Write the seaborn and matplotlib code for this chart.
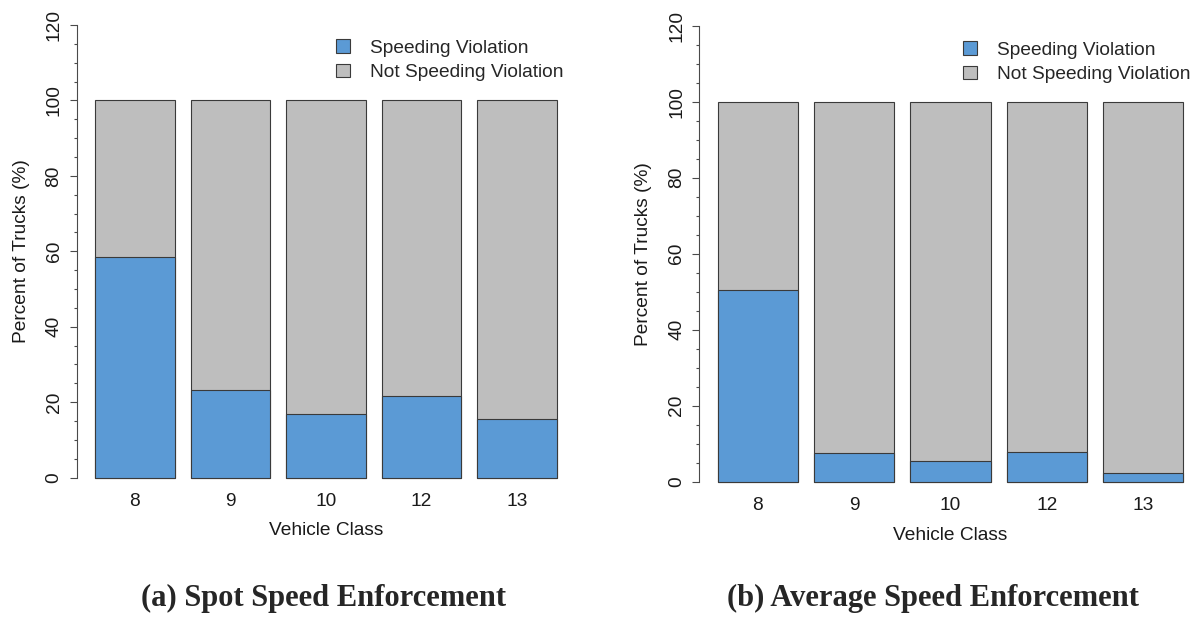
import matplotlib
matplotlib.use("Agg")
import matplotlib.pyplot as plt
from matplotlib.patches import Patch
from matplotlib.ticker import MultipleLocator
import seaborn as sns
import numpy as np

# ---- data ----
vehicle_classes = ["8", "9", "10", "12", "13"]
spot_speeding = [58.6, 23.2, 16.8, 21.7, 15.6]
spot_not_speeding = [41.4, 76.8, 83.2, 78.3, 84.4]
avg_speeding = [50.4, 7.6, 5.5, 7.9, 2.2]
avg_not_speeding = [49.6, 92.4, 94.5, 92.1, 97.8]
series_labels = ["Speeding Violation", "Not Speeding Violation"]
captions = ["(a) Spot Speed Enforcement", "(b) Average Speed Enforcement"]
y_label = "Percent of Trucks (%)"
x_label = "Vehicle Class"

BLUE = "#5B9AD5"
GREY = "#BEBEBE"
EDGE = "#3a3a3a"
AXC = "#4a4a4a"

sns.set_style("white")
plt.rcParams["font.family"] = ["Liberation Sans", "DejaVu Sans"]

W, H = 1199, 618
fig = plt.figure(figsize=(W / 100, H / 100), dpi=100)

FS = 13.8
BW = 1 / 1.2

def px_axes(l, t, r, b):
    return fig.add_axes([l / W, 1 - b / H, (r - l) / W, (b - t) / H])

panels = [
    dict(rect=(76.5, 7.0, 575.2, 495.6), spd=spot_speeding, nsp=spot_not_speeding,
         leg=(336, 39), cap=(324, 598), caption=captions[0], ylx=22),
    dict(rect=(699.1, 7.5, 1201.9, 500.0), spd=avg_speeding, nsp=avg_not_speeding,
         leg=(963, 41), cap=(933, 598), caption=captions[1], ylx=643),
]

for p in panels:
    ax = px_axes(*p["rect"])
    totals = list(np.add(p["spd"], p["nsp"]))
    sns.barplot(x=vehicle_classes, y=totals, order=vehicle_classes, color=GREY,
                saturation=1, width=BW, edgecolor=EDGE, linewidth=0.8, ax=ax)
    sns.barplot(x=vehicle_classes, y=p["spd"], order=vehicle_classes, color=BLUE,
                saturation=1, width=BW, edgecolor=EDGE, linewidth=0.8, ax=ax)
    ext = 0.232 / 1.2
    ax.set_xlim(-BW / 2 - ext, 4 + BW / 2 + ext)
    ax.set_ylim(-4.8, 124.8)
    for s in ["top", "right", "bottom"]:
        ax.spines[s].set_visible(False)
    ax.spines["left"].set_bounds(0, 120)
    ax.spines["left"].set_color(AXC)
    ax.spines["left"].set_linewidth(0.8)
    ax.yaxis.set_major_locator(MultipleLocator(20))
    ax.yaxis.set_minor_locator(MultipleLocator(5))
    ax.tick_params(axis="y", which="major", length=5.0, width=0.8, color=AXC,
                   labelsize=FS, pad=5.0, left=True, labelcolor="#1a1a1a")
    ax.tick_params(axis="y", which="minor", length=2.5, width=0.8, color=AXC, left=True)
    ax.tick_params(axis="x", length=0, labelsize=FS, pad=-1.8, labelcolor="#1a1a1a")
    ax.set_yticks(np.arange(0, 121, 20))
    for lab in ax.get_yticklabels():
        lab.set_rotation(90)
        lab.set_va("center")
    ax.set_xlabel(x_label, fontsize=FS, color="#1a1a1a")
    ax.set_ylabel(y_label, fontsize=FS, color="#1a1a1a")
    l, t, r, b = p["rect"]
    ax.xaxis.set_label_coords(0.5, -(35.0) / (b - t))
    ax.xaxis.label.set_va("center")
    ax.yaxis.set_label_coords((p["ylx"] - l) / (r - l), 0.5)
    ax.yaxis.label.set_va("center")
    ax.grid(False)

    handles = [Patch(facecolor=BLUE, edgecolor=EDGE, linewidth=0.8),
               Patch(facecolor=GREY, edgecolor=EDGE, linewidth=0.8)]
    ax.legend(handles, series_labels, loc="upper left",
              bbox_to_anchor=(p["leg"][0] / W, 1 - p["leg"][1] / H),
              bbox_transform=fig.transFigure, frameon=False, borderpad=0,
              borderaxespad=0, handlelength=0.72, handleheight=0.72,
              handletextpad=1.05, labelspacing=0.38, fontsize=FS)

    fig.text(p["cap"][0] / W, 1 - p["cap"][1] / H, p["caption"], ha="center", va="center",
             fontsize=22, fontweight="bold", family=["Liberation Serif", "DejaVu Serif"])

fig.savefig("out.png", dpi=100)
